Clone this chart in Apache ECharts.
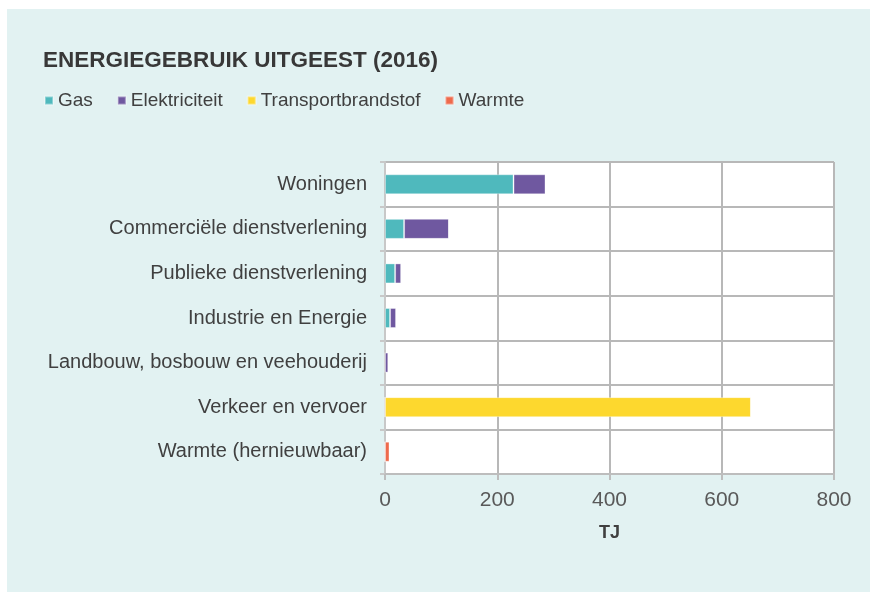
<!DOCTYPE html>
<html>
<head>
<meta charset="utf-8">
<script src="https://cdn.jsdelivr.net/npm/echarts@6/dist/echarts.min.js"></script>
<style>
html,body{margin:0;padding:0;background:#fff;}
#panel{position:absolute;left:7px;top:9px;width:863px;height:583px;background:#e2f2f2;}
#chart{width:870px;height:592px;position:absolute;left:0;top:0;}
</style>
</head>
<body>
<div id="panel"></div>
<div id="chart"></div>
<script>
// sectoren (van boven naar beneden)
var sectoren = ["Woningen", "Commerciële dienstverlening", "Publieke dienstverlening",
    "Industrie en Energie", "Landbouw, bosbouw en veehouderij", "Verkeer en vervoer", "Warmte (hernieuwbaar)"];
// waarden in TJ
var gas = [229, 34, 18, 9, 0, 0, 0];
var elektriciteit = [57, 80, 11, 11, 6, 0, 0];
var transport = [0, 0, 0, 0, 0, 652, 0];
var warmte = [0, 0, 0, 0, 0, 0, 8];
var xTicks = [0, 800, 200];

var font = "Liberation Sans, sans-serif";
var myChart = echarts.init(document.getElementById('chart'), null, {renderer: 'canvas'});

function serie(naam, data, kleur) {
    return {
        name: naam,
        type: 'bar',
        stack: 'totaal',
        barWidth: 20,
        data: data,
        itemStyle: {color: kleur, borderColor: 'rgba(255,255,255,0.35)', borderWidth: 1},
        emphasis: {disabled: true}
    };
}

var option = {
    animation: false,
    title: {
        text: "ENERGIEGEBRUIK UITGEEST (2016)",
        left: 38,
        top: 44,
        textStyle: {fontFamily: font, fontSize: 22.5, fontWeight: 'bold', color: '#383838'}
    },
    legend: {
        left: 39,
        top: 86,
        itemWidth: 8,
        itemHeight: 8,
        itemGap: 24,
        icon: 'rect',
        data: ['Gas', 'Elektriciteit', 'Transportbrandstof', 'Warmte'],
        textStyle: {fontFamily: font, fontSize: 19, color: '#404040'}
    },
    grid: {
        left: 385,
        right: 36,
        top: 162,
        bottom: 118,
        containLabel: false,
        show: true,
        backgroundColor: '#fff',
        borderWidth: 0
    },
    xAxis: {
        type: 'value',
        min: xTicks[0],
        max: xTicks[1],
        interval: xTicks[2],
        name: 'TJ',
        nameLocation: 'middle',
        nameGap: 50,
        nameTextStyle: {fontFamily: font, fontSize: 18, fontWeight: 'bold', color: '#404040'},
        axisLine: {show: true, lineStyle: {color: '#bdbdbd', width: 2}},
        axisTick: {show: true, length: 6, lineStyle: {color: '#bdbdbd', width: 2}},
        axisLabel: {fontFamily: font, fontSize: 21, color: '#595959', margin: 16},
        splitLine: {show: true, lineStyle: {color: '#b8b8b8', width: 2}}
    },
    yAxis: {
        type: 'category',
        inverse: true,
        data: sectoren,
        axisLine: {show: true, lineStyle: {color: '#c8c8c8', width: 2}},
        axisTick: {show: true, length: 5, lineStyle: {color: '#c8c8c8', width: 2}},
        axisLabel: {fontFamily: font, fontSize: 20, color: '#404040', margin: 18},
        splitLine: {show: true, lineStyle: {color: '#b8b8b8', width: 2}}
    },
    series: [
        serie('Gas', gas, '#4fb9bd'),
        serie('Elektriciteit', elektriciteit, '#6f58a0'),
        serie('Transportbrandstof', transport, '#fdd82e'),
        serie('Warmte', warmte, '#ee6a4c')
    ]
};
myChart.setOption(option);
</script>
</body>
</html>
